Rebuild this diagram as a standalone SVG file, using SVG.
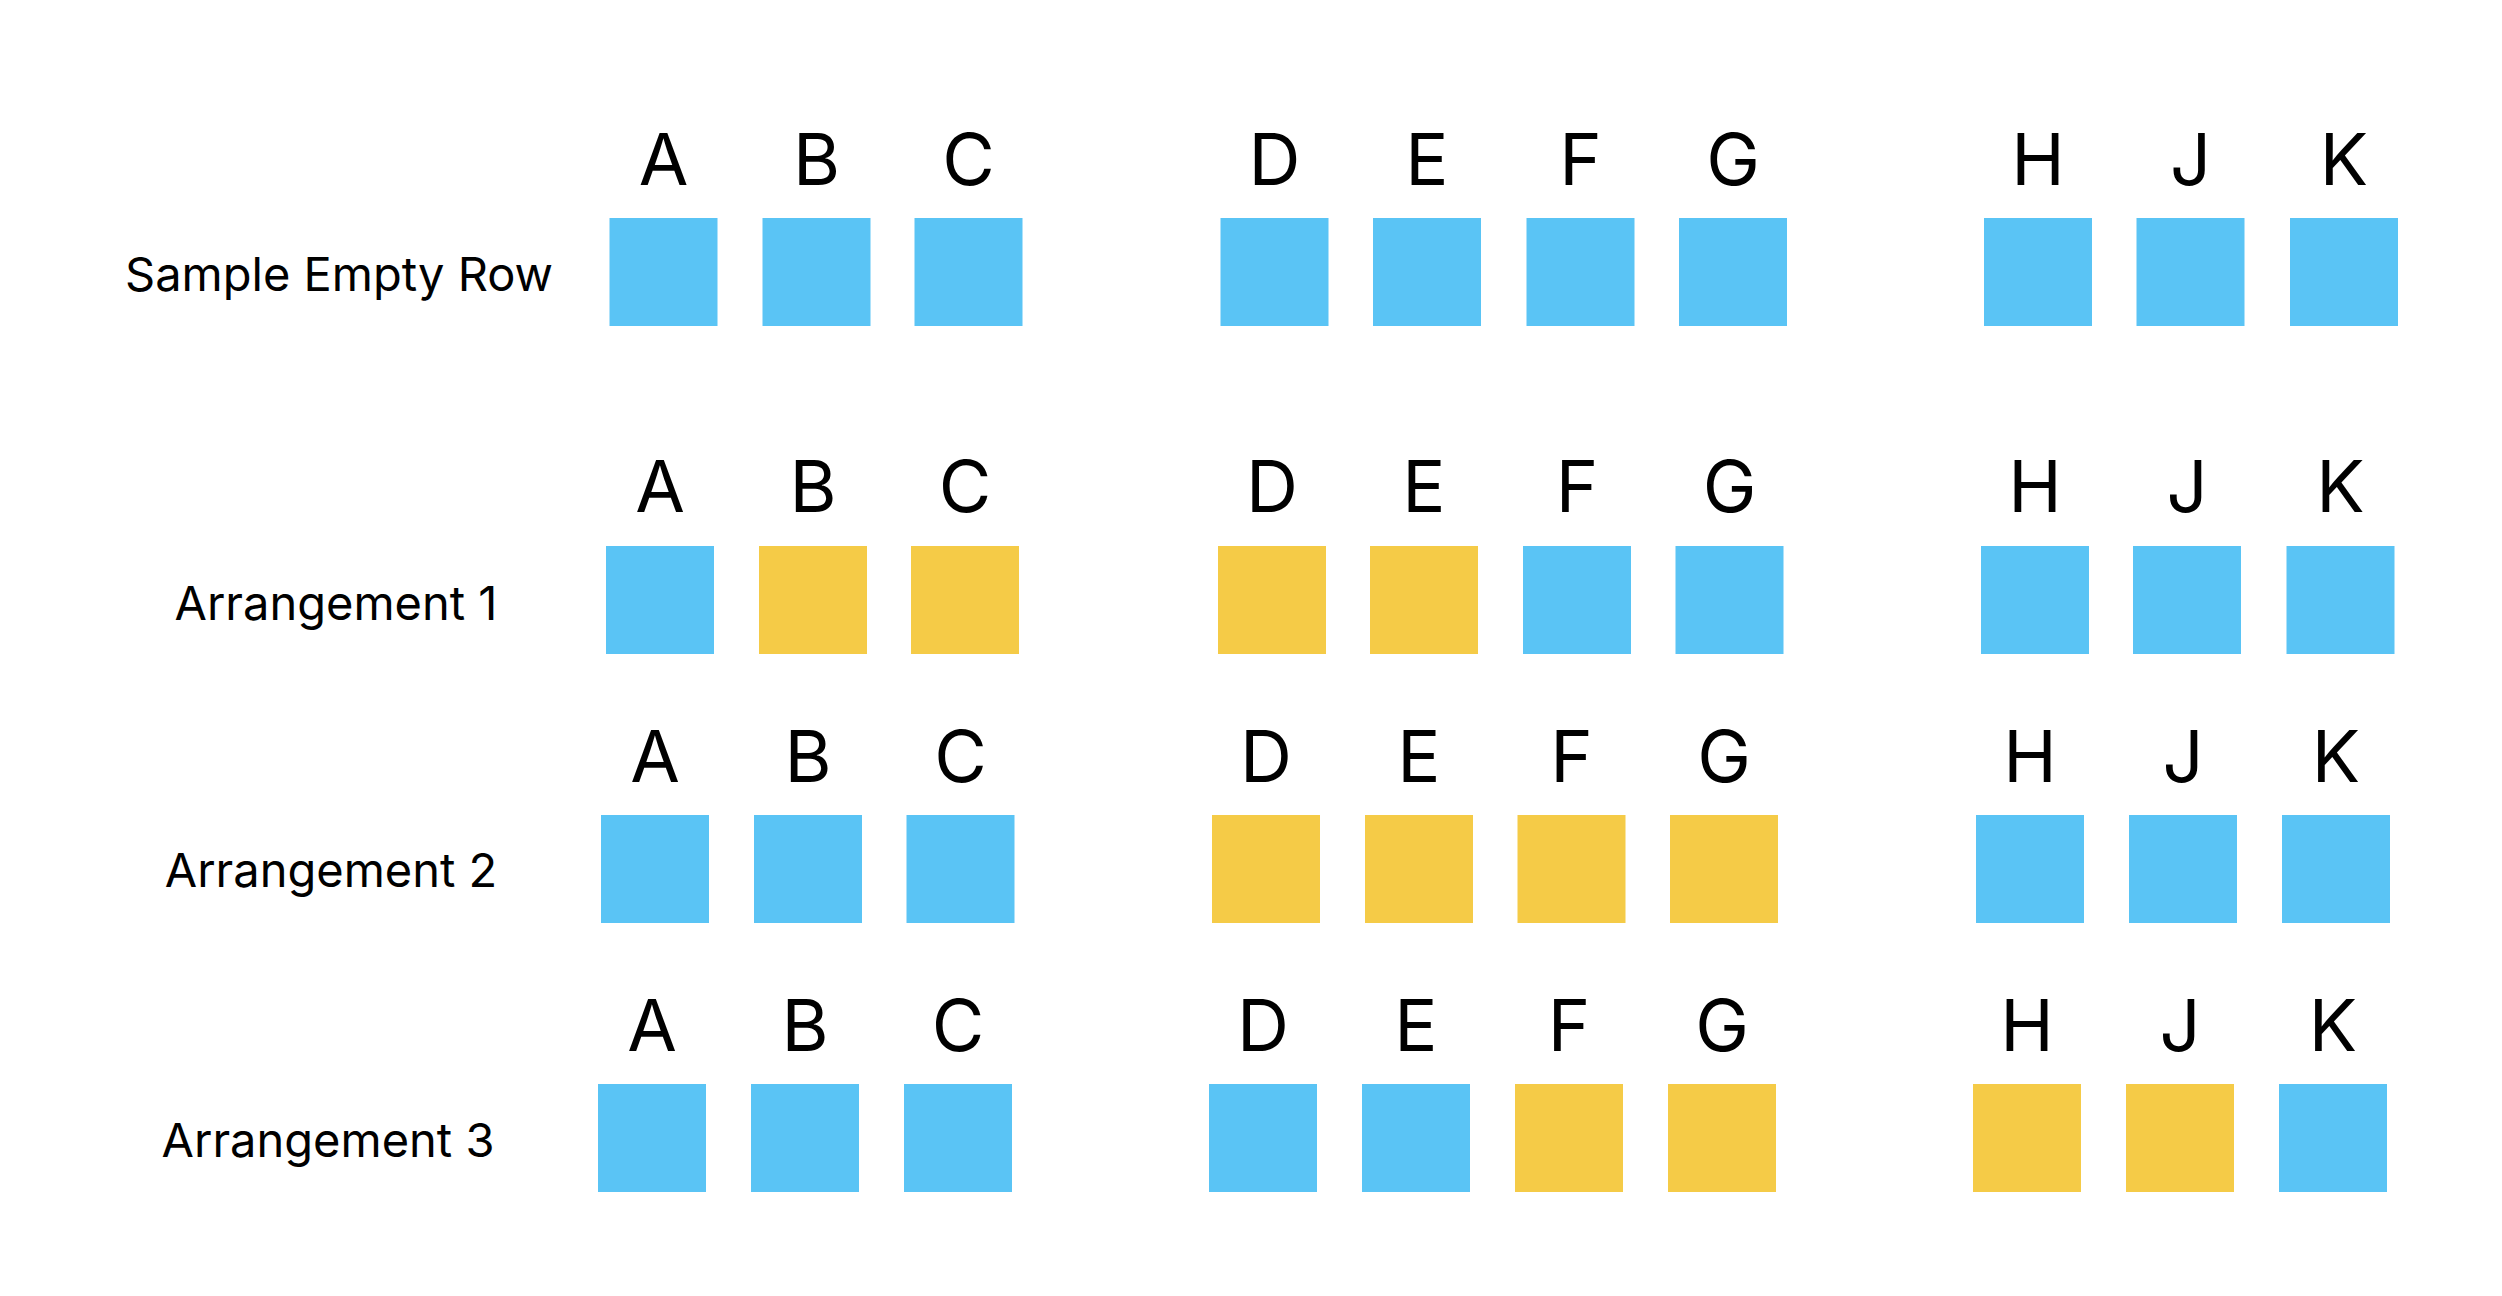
<svg xmlns="http://www.w3.org/2000/svg" width="2502" height="1296" viewBox="0 0 2502 1296">
<style>
.b{fill:#5AC4F5}
.y{fill:#F5CB47}
.l{font-family:Inter,"Liberation Sans",sans-serif;font-size:72px;fill:#000;text-anchor:middle}
.r{font-family:Inter,"Liberation Sans",sans-serif;font-size:47px;fill:#000;text-anchor:middle}
</style>
<rect width="2502" height="1296" fill="#fff"/>
<g id="row0">
<text class="r" x="339" y="291">Sample Empty Row</text>
<g id="r0A"><rect class="b" x="609.5" y="218" width="108" height="108"/><text class="l" x="663.5" y="185">A</text></g>
<g id="r0B"><rect class="b" x="762.5" y="218" width="108" height="108"/><text class="l" x="816.5" y="185">B</text></g>
<g id="r0C"><rect class="b" x="914.5" y="218" width="108" height="108"/><text class="l" x="968.5" y="185">C</text></g>
<g id="r0D"><rect class="b" x="1220.5" y="218" width="108" height="108"/><text class="l" x="1274.5" y="185">D</text></g>
<g id="r0E"><rect class="b" x="1373" y="218" width="108" height="108"/><text class="l" x="1427" y="185">E</text></g>
<g id="r0F"><rect class="b" x="1526.5" y="218" width="108" height="108"/><text class="l" x="1580.5" y="185">F</text></g>
<g id="r0G"><rect class="b" x="1679" y="218" width="108" height="108"/><text class="l" x="1733" y="185">G</text></g>
<g id="r0H"><rect class="b" x="1984" y="218" width="108" height="108"/><text class="l" x="2038" y="185">H</text></g>
<g id="r0J"><rect class="b" x="2136.5" y="218" width="108" height="108"/><text class="l" x="2190.5" y="185">J</text></g>
<g id="r0K"><rect class="b" x="2290" y="218" width="108" height="108"/><text class="l" x="2344" y="185">K</text></g>
</g>
<g id="row1">
<text class="r" x="336" y="620">Arrangement 1</text>
<g id="r1A"><rect class="b" x="606" y="546" width="108" height="108"/><text class="l" x="660" y="512">A</text></g>
<g id="r1B"><rect class="y" x="759" y="546" width="108" height="108"/><text class="l" x="813" y="512">B</text></g>
<g id="r1C"><rect class="y" x="911" y="546" width="108" height="108"/><text class="l" x="965" y="512">C</text></g>
<g id="r1D"><rect class="y" x="1218" y="546" width="108" height="108"/><text class="l" x="1272" y="512">D</text></g>
<g id="r1E"><rect class="y" x="1370" y="546" width="108" height="108"/><text class="l" x="1424" y="512">E</text></g>
<g id="r1F"><rect class="b" x="1523" y="546" width="108" height="108"/><text class="l" x="1577" y="512">F</text></g>
<g id="r1G"><rect class="b" x="1675.5" y="546" width="108" height="108"/><text class="l" x="1729.5" y="512">G</text></g>
<g id="r1H"><rect class="b" x="1981" y="546" width="108" height="108"/><text class="l" x="2035" y="512">H</text></g>
<g id="r1J"><rect class="b" x="2133" y="546" width="108" height="108"/><text class="l" x="2187" y="512">J</text></g>
<g id="r1K"><rect class="b" x="2286.5" y="546" width="108" height="108"/><text class="l" x="2340.5" y="512">K</text></g>
</g>
<g id="row2">
<text class="r" x="331" y="887">Arrangement 2</text>
<g id="r2A"><rect class="b" x="601" y="815" width="108" height="108"/><text class="l" x="655" y="782">A</text></g>
<g id="r2B"><rect class="b" x="754" y="815" width="108" height="108"/><text class="l" x="808" y="782">B</text></g>
<g id="r2C"><rect class="b" x="906.5" y="815" width="108" height="108"/><text class="l" x="960.5" y="782">C</text></g>
<g id="r2D"><rect class="y" x="1212" y="815" width="108" height="108"/><text class="l" x="1266" y="782">D</text></g>
<g id="r2E"><rect class="y" x="1365" y="815" width="108" height="108"/><text class="l" x="1419" y="782">E</text></g>
<g id="r2F"><rect class="y" x="1517.5" y="815" width="108" height="108"/><text class="l" x="1571.5" y="782">F</text></g>
<g id="r2G"><rect class="y" x="1670" y="815" width="108" height="108"/><text class="l" x="1724" y="782">G</text></g>
<g id="r2H"><rect class="b" x="1976" y="815" width="108" height="108"/><text class="l" x="2030" y="782">H</text></g>
<g id="r2J"><rect class="b" x="2129" y="815" width="108" height="108"/><text class="l" x="2183" y="782">J</text></g>
<g id="r2K"><rect class="b" x="2282" y="815" width="108" height="108"/><text class="l" x="2336" y="782">K</text></g>
</g>
<g id="row3">
<text class="r" x="328" y="1157">Arrangement 3</text>
<g id="r3A"><rect class="b" x="598" y="1084" width="108" height="108"/><text class="l" x="652" y="1051">A</text></g>
<g id="r3B"><rect class="b" x="751" y="1084" width="108" height="108"/><text class="l" x="805" y="1051">B</text></g>
<g id="r3C"><rect class="b" x="904" y="1084" width="108" height="108"/><text class="l" x="958" y="1051">C</text></g>
<g id="r3D"><rect class="b" x="1209" y="1084" width="108" height="108"/><text class="l" x="1263" y="1051">D</text></g>
<g id="r3E"><rect class="b" x="1362" y="1084" width="108" height="108"/><text class="l" x="1416" y="1051">E</text></g>
<g id="r3F"><rect class="y" x="1515" y="1084" width="108" height="108"/><text class="l" x="1569" y="1051">F</text></g>
<g id="r3G"><rect class="y" x="1668" y="1084" width="108" height="108"/><text class="l" x="1722" y="1051">G</text></g>
<g id="r3H"><rect class="y" x="1973" y="1084" width="108" height="108"/><text class="l" x="2027" y="1051">H</text></g>
<g id="r3J"><rect class="y" x="2126" y="1084" width="108" height="108"/><text class="l" x="2180" y="1051">J</text></g>
<g id="r3K"><rect class="b" x="2279" y="1084" width="108" height="108"/><text class="l" x="2333" y="1051">K</text></g>
</g>
</svg>
